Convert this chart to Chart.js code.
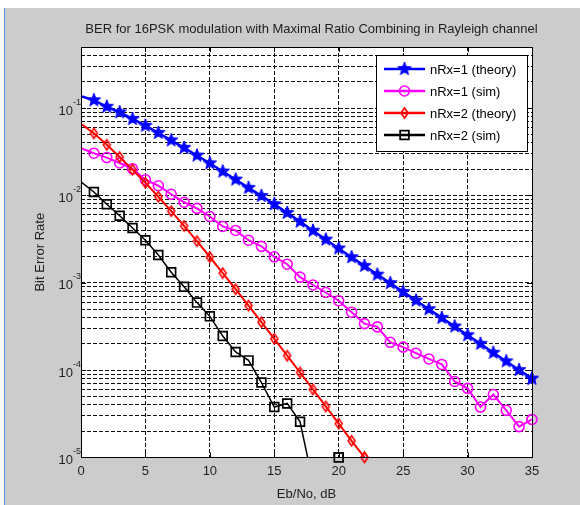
<!DOCTYPE html>
<html>
<head>
<meta charset="utf-8">
<script src="https://cdn.jsdelivr.net/npm/chart.js@4.4.0/dist/chart.umd.min.js"></script>
<style>
  html, body { margin: 0; padding: 0; background: #fff; }
  canvas { display: block; }
</style>
</head>
<body>
<canvas id="chart" width="580" height="505"></canvas>
<script>
'use strict'

// ------------- Data ------------- //
var snrDb = [0, 1, 2, 3, 4, 5, 6, 7, 8, 9, 10, 11, 12, 13, 14, 15, 16, 17,
             18, 19, 20, 21, 22, 23, 24, 25, 26, 27, 28, 29, 30, 31, 32, 33, 34, 35];

var berTheory1 = [0.137, 0.123, 0.1035, 0.0895, 0.075, 0.0628, 0.0519, 0.0427, 0.0351, 0.0286,
                  0.0233, 0.0188, 0.0152, 0.0122, 0.00986, 0.00792, 0.0063, 0.00501, 0.00394, 0.00312,
                  0.00247, 0.00196, 0.00156, 0.00124, 0.00099, 0.000785, 0.000625, 0.000498, 0.000396, 0.000316,
                  0.000251, 0.0002, 0.000158, 0.000126, 0.0001, 0.0000798];

var berSim1 = [0.0346, 0.0304, 0.0271, 0.0235, 0.0201, 0.0151, 0.0129, 0.0103, 0.00834, 0.0071,
               0.00573, 0.00441, 0.00397, 0.00307, 0.00261, 0.00198, 0.00163, 0.00116, 0.000942, 0.000773,
               0.000622, 0.00046, 0.00034, 0.000312, 0.000208, 0.000183, 0.000156, 0.000134, 0.000116, 0.000074,
               0.0000617, 0.0000377, 0.0000524, 0.0000346, 0.0000225, 0.0000272];

var berTheory2 = [0.0661, 0.0513, 0.038, 0.0275, 0.0197, 0.01396, 0.00966, 0.00661, 0.00447, 0.00299,
                  0.00197, 0.00129, 0.000843, 0.000547, 0.000353, 0.000228, 0.000146, 0.0000938, 0.00006, 0.0000383,
                  0.0000244, 0.0000155, 0.00001, null, null, null, null, null, null, null,
                  null, null, null, null, null, null];

var berSim2 = [0.0143, 0.01094, 0.00792, 0.00585, 0.00423, 0.00307, 0.00208, 0.00132, 0.0009, 0.000592,
               0.000412, 0.000245, 0.000161, 0.000129, 0.000072, 0.0000377, 0.0000415, 0.0000256, 0.0000052, null,
               0.00001, null, null, null, null, null, null, null, null, null,
               null, null, null, null, null, null];

var seriesLabels = ['nRx=1 (theory)', 'nRx=1 (sim)', 'nRx=2 (theory)', 'nRx=2 (sim)'];

var xTicks = [0, 5, 10, 15, 20, 25, 30, 35];
var yDecadeExp = [-5, -4, -3, -2, -1];       // labelled ticks 10^exp
var yMantissa = [1, 2, 3, 4, 5, 6, 7, 8, 9]; // grid lines inside each decade
var yMin = 1e-5, yMax = 0.5;

var FONT = 'Liberation Sans, Arial, sans-serif';
var TEXT = '#1e1e1e';

// ------------- Marker images ------------- //
function makeStar(r, color){
  var s = Math.ceil(r * 2 + 4);
  var c = document.createElement('canvas');
  c.width = s; c.height = s;
  var g = c.getContext('2d');
  g.beginPath();
  for (var k = 0; k < 10; k++){
    var rr = (k % 2) ? r * 0.42 : r;
    var a = -Math.PI / 2 + k * Math.PI / 5;
    g.lineTo(s / 2 + rr * Math.cos(a), s / 2 + rr * Math.sin(a));
  }
  g.closePath();
  g.fillStyle = color; g.fill();
  g.strokeStyle = color; g.lineWidth = 1; g.stroke();
  return c;
}

function makeDiamond(w, h, color, lw){
  var c = document.createElement('canvas');
  c.width = w + 4; c.height = h + 4;
  var g = c.getContext('2d');
  var cx = c.width / 2, cy = c.height / 2;
  g.beginPath();
  g.moveTo(cx, cy - h / 2);
  g.lineTo(cx + w / 2, cy);
  g.lineTo(cx, cy + h / 2);
  g.lineTo(cx - w / 2, cy);
  g.closePath();
  g.strokeStyle = color; g.lineWidth = lw; g.stroke();
  return c;
}

var starImg = makeStar(7, '#0000ff');
var diamondImg = makeDiamond(7, 10, '#ff0000', 1.6);

function pts(values){
  return values.map(function(v, i){ return {x: snrDb[i], y: v}; });
}

// hide markers sitting on the left axis line (as in the original)
function radiusOf(r){
  return function(c){ return (c.parsed && c.parsed.x === snrDb[0]) ? 0 : r; };
}

// ------------- Plugin: figure background, box, ticks, legend, texts ------------- //
var matlabLook = {
  id: 'matlabLook',
  beforeDraw: function(chart){
    var ctx = chart.ctx, a = chart.chartArea;
    ctx.save();
    ctx.fillStyle = '#ffffff';
    ctx.fillRect(0, 0, chart.width, chart.height);
    ctx.fillStyle = '#cccccc';
    ctx.fillRect(5, 8, chart.width - 5, chart.height - 8);
    ctx.fillStyle = '#4f93d6';
    ctx.fillRect(4, 8, 1, chart.height - 8);
    ctx.fillStyle = '#ffffff';
    ctx.fillRect(a.left, a.top, a.right - a.left, a.bottom - a.top);
    ctx.restore();
  },
  afterDatasetsDraw: function(chart){
    var ctx = chart.ctx, a = chart.chartArea;
    var wide = {left: a.left - 10, right: a.right + 10, top: a.top - 10, bottom: a.bottom + 10};

    // markers on the right/bottom edge are drawn whole
    ctx.save();
    chart.data.datasets.forEach(function(ds, i){
      var meta = chart.getDatasetMeta(i);
      meta.data.forEach(function(el){
        if (el.skip) return;
        var nearEdge = (el.x > a.right - 8 && el.x <= a.right + 1) || (el.y > a.bottom - 8 && el.y <= a.bottom + 1);
        if (nearEdge) el.draw(ctx, wide);
      });
    });
    ctx.restore();

    // axes box and inward ticks
    var xs = chart.scales.x, ys = chart.scales.y;
    ctx.save();
    ctx.strokeStyle = '#000';
    ctx.lineWidth = 1;
    ctx.strokeRect(Math.round(a.left) + 0.5, Math.round(a.top) + 0.5,
                   Math.round(a.right - a.left), Math.round(a.bottom - a.top));
    ctx.beginPath();
    xTicks.forEach(function(t){
      var x = Math.round(xs.getPixelForValue(t)) + 0.5;
      ctx.moveTo(x, a.bottom); ctx.lineTo(x, a.bottom - 5);
      ctx.moveTo(x, a.top); ctx.lineTo(x, a.top + 5);
    });
    yDecadeExp.forEach(function(e){
      var y = Math.round(ys.getPixelForValue(Math.pow(10, e))) + 0.5;
      ctx.moveTo(a.left, y); ctx.lineTo(a.left + 5, y);
      ctx.moveTo(a.right, y); ctx.lineTo(a.right - 5, y);
    });
    ctx.stroke();
    ctx.restore();

    // legend
    var bx = Math.round(a.right) - 156, by = Math.round(a.top) + 8, bw = 151, bh = 96;
    ctx.save();
    ctx.fillStyle = '#ffffff';
    ctx.fillRect(bx, by, bw, bh);
    ctx.strokeStyle = '#000';
    ctx.lineWidth = 1;
    ctx.strokeRect(bx + 0.5, by + 0.5, bw, bh);
    ctx.font = '13px ' + FONT;
    ctx.textBaseline = 'middle';
    ctx.textAlign = 'left';
    chart.data.datasets.forEach(function(ds, i){
      var y = by + 14 + i * 22;
      var x0 = bx + 8, x1 = bx + 49, xm = (x0 + x1) / 2;
      ctx.strokeStyle = ds.borderColor;
      ctx.lineWidth = 2.5;
      ctx.beginPath(); ctx.moveTo(x0, y); ctx.lineTo(x1, y); ctx.stroke();
      var st = ds.pointStyle;
      if (typeof st === 'object'){
        ctx.drawImage(st, xm - st.width / 2, y - st.height / 2);
      } else {
        ctx.lineWidth = ds.pointBorderWidth;
        ctx.beginPath();
        if (st === 'circle') ctx.arc(xm, y, ds.legendRadius, 0, Math.PI * 2);
        else {
          var h = ds.legendRadius * Math.SQRT1_2;
          ctx.rect(xm - h, y - h, 2 * h, 2 * h);
        }
        ctx.stroke();
      }
      ctx.fillStyle = '#000';
      ctx.fillText(ds.label, bx + 54, y + 1);
    });
    ctx.restore();
  },
  afterDraw: function(chart){
    var ctx = chart.ctx, a = chart.chartArea, ys = chart.scales.y;
    ctx.save();
    ctx.fillStyle = TEXT;
    ctx.textBaseline = 'middle';

    ctx.font = '13px ' + FONT;
    ctx.textAlign = 'center';
    ctx.fillText('BER for 16PSK modulation with Maximal Ratio Combining in Rayleigh channel', (a.left + a.right) / 2 + 5, 29);
    ctx.fillText('Eb/No, dB', (a.left + a.right) / 2, 494);

    ctx.save();
    ctx.translate(40, (a.top + a.bottom) / 2);
    ctx.rotate(-Math.PI / 2);
    ctx.fillText('Bit Error Rate', 0, 0);
    ctx.restore();

    // y tick labels 10^exp
    yDecadeExp.forEach(function(e){
      var y = ys.getPixelForValue(Math.pow(10, e));
      ctx.font = '13px ' + FONT;
      ctx.textAlign = 'right';
      ctx.fillText('10', a.left - 8, y + 3);
      ctx.font = '9px ' + FONT;
      ctx.textAlign = 'left';
      ctx.fillText(String(e), a.left - 8, y - 6);
    });
    ctx.restore();
  }
};

// ------------- Init chart ------------- //
function initChart(){
  var ctx = document.getElementById('chart').getContext('2d');

  var gridValues = [];
  yDecadeExp.forEach(function(e){
    yMantissa.forEach(function(m){
      var v = parseFloat(m + 'e' + e);
      if (v <= yMax) gridValues.push(v);
    });
  });

  var data = {
    datasets: [{
      label: seriesLabels[0],
      data: pts(berTheory1),
      borderColor: '#0000ff',
      backgroundColor: '#0000ff',
      borderWidth: 2.5,
      pointStyle: starImg,
      pointRadius: radiusOf(6),
      order: 4
    }, {
      label: seriesLabels[1],
      data: pts(berSim1),
      borderColor: '#ff00ff',
      backgroundColor: 'rgba(0,0,0,0)',
      borderWidth: 2,
      pointStyle: 'circle',
      pointRadius: radiusOf(5),
      legendRadius: 5,
      pointBorderWidth: 1.6,
      pointBackgroundColor: 'rgba(0,0,0,0)',
      order: 3
    }, {
      label: seriesLabels[2],
      data: pts(berTheory2),
      borderColor: '#ff0000',
      backgroundColor: '#ff0000',
      borderWidth: 2,
      pointStyle: diamondImg,
      pointRadius: radiusOf(5),
      order: 2
    }, {
      label: seriesLabels[3],
      data: pts(berSim2),
      borderColor: '#000000',
      backgroundColor: 'rgba(0,0,0,0)',
      borderWidth: 1.5,
      pointStyle: 'rect',
      pointRadius: radiusOf(6.2),
      legendRadius: 6.2,
      pointBorderWidth: 1.7,
      pointBackgroundColor: 'rgba(0,0,0,0)',
      order: 1
    }]
  };

  new Chart(ctx, {
    type: 'line',
    data: data,
    options: {
      responsive: false,
      animation: false,
      events: [],
      spanGaps: false,
      layout: { padding: { left: 81, right: 48, top: 47, bottom: 20 } },
      plugins: {
        legend: { display: false },
        title: { display: false },
        tooltip: { enabled: false }
      },
      elements: { line: { tension: 0 } },
      scales: {
        x: {
          type: 'linear',
          min: 0,
          max: 35,
          afterBuildTicks: function(scale){
            scale.ticks = xTicks.map(function(v){ return {value: v}; });
          },
          ticks: {
            autoSkip: false,
            padding: 6,
            color: TEXT,
            font: { family: FONT, size: 13 }
          },
          grid: { color: '#111', lineWidth: 1, drawTicks: false },
          border: { display: false, dash: [4, 2] }
        },
        y: {
          type: 'logarithmic',
          min: yMin,
          max: yMax,
          afterBuildTicks: function(scale){
            scale.ticks = gridValues.map(function(v){ return {value: v}; });
          },
          ticks: { display: false, autoSkip: false },
          grid: { color: '#111', lineWidth: 1, drawTicks: false },
          border: { display: false, dash: [4, 2] }
        }
      }
    },
    plugins: [matlabLook]
  });
}

initChart();
</script>
</body>
</html>
